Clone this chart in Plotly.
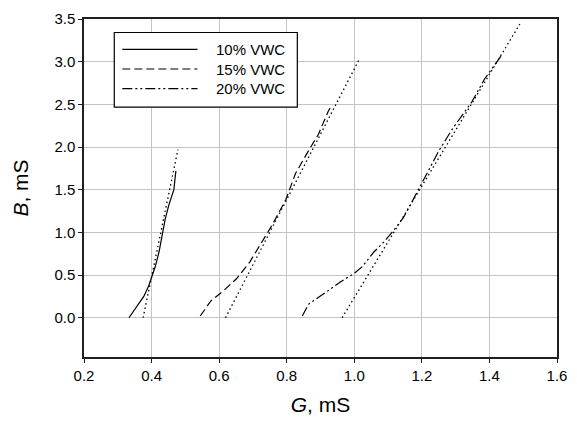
import plotly.graph_objects as go

# measured curves (G in mS, B in mS)
g10 = [0.333, 0.353, 0.377, 0.391, 0.401, 0.411, 0.422, 0.430, 0.440, 0.451, 0.459, 0.466, 0.470, 0.472]
b10 = [0.00, 0.12, 0.25, 0.37, 0.48, 0.60, 0.77, 0.96, 1.15, 1.32, 1.42, 1.50, 1.65, 1.72]

g15 = [0.544, 0.575, 0.614, 0.652, 0.691, 0.729, 0.756, 0.797, 0.826, 0.865, 0.894, 0.923, 0.932]
b15 = [0.02, 0.195, 0.32, 0.46, 0.655, 0.90, 1.08, 1.38, 1.69, 1.96, 2.15, 2.42, 2.48]

g20 = [0.846, 0.865, 0.913, 0.961, 1.000, 1.024, 1.058, 1.087, 1.116, 1.145, 1.169, 1.193,
       1.251, 1.290, 1.348, 1.386, 1.435]
b20 = [0.02, 0.16, 0.29, 0.425, 0.52, 0.60, 0.77, 0.885, 1.02, 1.17, 1.345, 1.52,
       1.96, 2.21, 2.53, 2.80, 3.07]

# straight-line fits (dotted)
fit10_g = [0.375, 0.478]
fit10_b = [0.0, 1.97]
fit15_g = [0.619, 1.015]
fit15_b = [0.0, 3.03]
fit20_g = [0.964, 1.490]
fit20_b = [0.0, 3.44]

names = ["10% VWC", "15% VWC", "20% VWC"]
dashes = ["solid", "8px,4px", "10px,3px,2px,3px,2px,3px"]

FONT = "Liberation Sans, Arial, sans-serif"

fig = go.Figure()

curves = [(g10, b10), (g15, b15), (g20, b20)]
for (g, b), name, dash in zip(curves, names, dashes):
    fig.add_trace(go.Scatter(x=g, y=b, mode="lines", name=name,
                             line=dict(color="black", width=1.2, dash=dash),
                             showlegend=False))

for g, b in [(fit10_g, fit10_b), (fit15_g, fit15_b), (fit20_g, fit20_b)]:
    fig.add_trace(go.Scatter(x=g, y=b, mode="lines",
                             line=dict(color="black", width=1.3, dash="1.5px,3px"),
                             showlegend=False))

# hand-made legend box (paper coords)
fig.add_shape(type="rect", xref="paper", yref="paper",
              x0=0.064, x1=0.451, y0=0.739, y1=0.960,
              line=dict(color="black", width=1.2), fillcolor="white", layer="above")
row_y = [0.910, 0.852, 0.794]
for name, dash, y in zip(names, dashes, row_y):
    fig.add_shape(type="line", xref="paper", yref="paper",
                  x0=0.081, x1=0.240, y0=y, y1=y,
                  line=dict(color="black", width=1.2, dash=dash), layer="above")
    fig.add_annotation(xref="paper", yref="paper", x=0.275, y=y, text=name,
                       showarrow=False, xanchor="left", yanchor="middle",
                       font=dict(family=FONT, size=15, color="black"))

fig.update_xaxes(range=[0.2, 1.6], dtick=0.2, tickformat=".1f",
                 showgrid=True, gridcolor="#c4c4c4", gridwidth=1.3,
                 showline=True, linecolor="#202020", linewidth=1.5, mirror=True,
                 ticks="outside", ticklen=4, tickcolor="#202020", zeroline=False,
                 title=dict(text="<i>G</i>, mS", font=dict(family=FONT, size=21, color="black"),
                            standoff=15),
                 tickfont=dict(family=FONT, size=15, color="black"))
fig.update_yaxes(range=[-0.46, 3.5], tickvals=[0, 0.5, 1, 1.5, 2, 2.5, 3, 3.5], tickformat=".1f",
                 showgrid=True, gridcolor="#c4c4c4", gridwidth=1.3,
                 showline=True, linecolor="#202020", linewidth=1.5, mirror=True,
                 ticks="outside", ticklen=4, tickcolor="#202020", zeroline=False,
                 title=dict(text="<i>B</i>, mS", font=dict(family=FONT, size=21, color="black"),
                            standoff=20),
                 tickfont=dict(family=FONT, size=15, color="black"))

fig.update_layout(width=577, height=428,
                  margin=dict(l=84, r=10, t=13, b=71),
                  plot_bgcolor="white", paper_bgcolor="white",
                  font=dict(family=FONT, color="black"))

# page body margin would push the fixed-size figure out of the window
fig.write_html("out.html", config={"displayModeBar": False},
               post_script="document.body.style.margin='0';")
